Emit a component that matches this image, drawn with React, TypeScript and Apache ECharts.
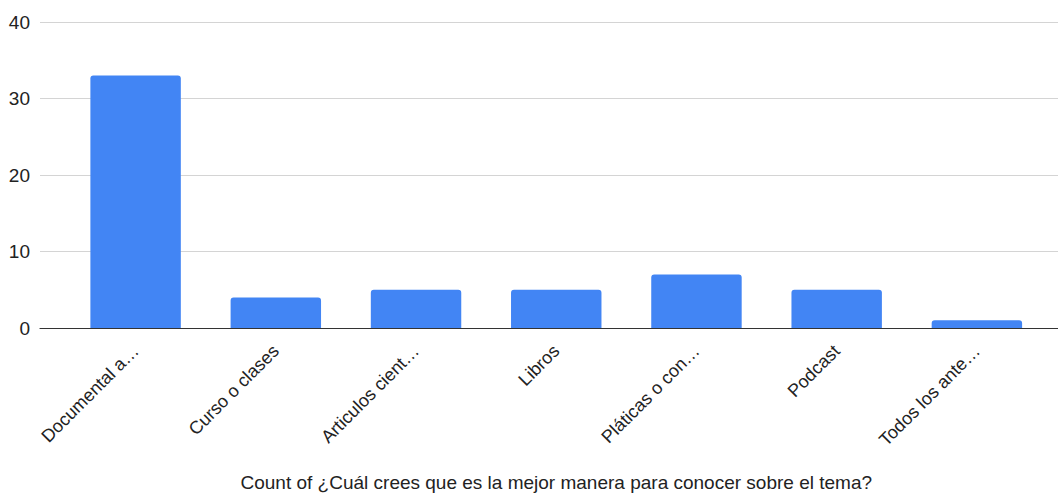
import React, { useEffect, useRef } from "react";
import * as echarts from "echarts";

const categories = [
  "Documental a…",
  "Curso o clases",
  "Articulos cient…",
  "Libros",
  "Pláticas o con…",
  "Podcast",
  "Todos los ante…",
];
const counts = [33, 4, 5, 5, 7, 5, 1];
const yMin = 0;
const yMax = 40;
const yInterval = 10;
const axisTitle = "Count of ¿Cuál crees que es la mejor manera para conocer sobre el tema?";

export default function App() {
  const ref = useRef<HTMLDivElement>(null);
  useEffect(() => {
    if (!ref.current) return;
    const chart = echarts.init(ref.current, null, { renderer: "svg" });
    const font = "Liberation Sans, Arial, sans-serif";
    chart.setOption({
      animation: false,
      backgroundColor: "#ffffff",
      textStyle: { fontFamily: font },
      grid: [
        { left: 65.5, right: 11, top: 22, bottom: 167, outerBoundsMode: "none", containLabel: false },
        { left: 40, right: 0, top: 22, bottom: 167, outerBoundsMode: "none", containLabel: false },
      ],
      xAxis: [
        {
          type: "category",
          gridIndex: 0,
          data: categories,
          axisLine: { show: false },
          axisTick: { show: false },
          axisLabel: {
            rotate: 45,
            margin: 20,
            fontSize: 18,
            color: "#222",
            fontFamily: font,
            interval: 0,
          },
          name: axisTitle,
          nameLocation: "middle",
          nameGap: 145,
          nameTextStyle: { fontSize: 19, color: "#222", fontFamily: font },
        },
        {
          type: "value",
          gridIndex: 1,
          min: 0,
          max: 1,
          axisLine: { show: true, onZero: false, lineStyle: { color: "#333", width: 1.2 } },
          axisTick: { show: false },
          axisLabel: { show: false },
          splitLine: { show: false },
        },
      ],
      yAxis: [
        {
          type: "value",
          gridIndex: 0,
          min: yMin,
          max: yMax,
          interval: yInterval,
          show: false,
          splitLine: { show: false },
        },
        {
          type: "value",
          gridIndex: 1,
          min: yMin,
          max: yMax,
          interval: yInterval,
          axisLine: { show: false },
          axisTick: { show: false },
          axisLabel: { margin: 10, fontSize: 19, color: "#222", fontFamily: font },
          splitLine: { show: true, lineStyle: { color: "#d4d4d4", width: 1 } },
        },
      ],
      series: [
        {
          type: "bar",
          xAxisIndex: 0,
          yAxisIndex: 0,
          data: counts,
          barWidth: "64.5%",
          itemStyle: { color: "#4285F4", borderRadius: [3, 3, 0, 0] },
          z: 1,
        },
      ],
    });
    return () => chart.dispose();
  }, []);
  return (
    <div
      ref={ref}
      style={{ position: "fixed", left: 0, top: 0, width: 1058, height: 495 }}
    />
  );
}
